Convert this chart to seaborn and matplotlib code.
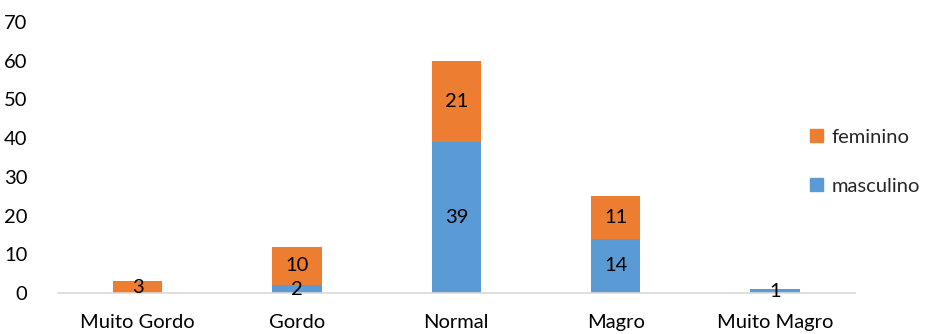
import matplotlib
matplotlib.use("Agg")
import matplotlib.pyplot as plt
from matplotlib.patches import Patch
import seaborn as sns
import pandas as pd

categories = ["Muito Gordo", "Gordo", "Normal", "Magro", "Muito Magro"]
masculino = [0, 2, 39, 14, 1]
feminino = [3, 10, 21, 11, 0]

BLUE = "#5B9BD5"
ORANGE = "#ED7D31"
FS = 14.5

sns.set_theme(style="white")
plt.rcParams["font.family"] = ["Lato", "DejaVu Sans"]

df = pd.DataFrame({"categoria": categories, "masculino": masculino, "feminino": feminino})

fig = plt.figure(figsize=(9.28, 3.34), dpi=100)
ax = fig.add_axes([0.0625, 0.1228, 0.8585, 0.8114])

sns.barplot(data=df, x="categoria", y="masculino", color=BLUE, width=0.31,
            saturation=1, linewidth=0, ax=ax)
sns.barplot(data=df, x="categoria", y="feminino", color=ORANGE, width=0.31,
            saturation=1, linewidth=0, bottom=df["masculino"], ax=ax)

for cont, vals in zip(ax.containers, [masculino, feminino]):
    labels = [str(v) if v > 0 else "" for v in vals]
    ax.bar_label(cont, labels=labels, label_type="center", fontsize=FS, color="#000000")

ax.set_ylim(0, 70)
ax.set_yticks(range(0, 71, 10))
ax.set_xlim(-0.5, 4.5)
ax.set_xlabel("")
ax.set_ylabel("")
ax.tick_params(axis="both", length=0, labelsize=FS, colors="#000000")
ax.tick_params(axis="x", pad=15)
ax.tick_params(axis="y", pad=22)
for s in ["top", "right", "left"]:
    ax.spines[s].set_visible(False)
ax.spines["bottom"].set_color("#D9D9D9")
ax.spines["bottom"].set_linewidth(1.2)
ax.grid(False)

handles = [Patch(color=ORANGE, label="feminino"), Patch(color=BLUE, label="masculino")]
fig.legend(handles=handles, loc="upper left", bbox_to_anchor=(0.8725, 0.615),
           frameon=False, fontsize=FS, handlelength=0.65, handleheight=0.65,
           handletextpad=0.45, labelspacing=1.6, borderpad=0,
           borderaxespad=0)

fig.savefig("out.png", dpi=100)
